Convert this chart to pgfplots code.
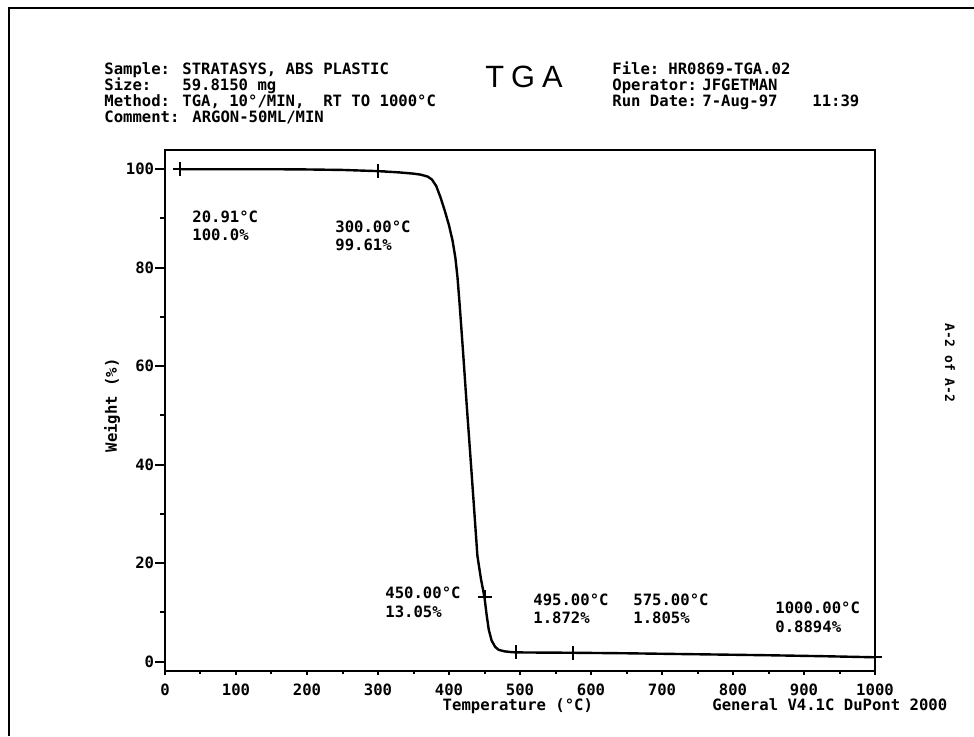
\documentclass[border=0pt]{standalone}
\usepackage{pgfplots}
\pgfplotsset{compat=1.18}
\usepackage{fontspec}
\setmainfont{DejaVu Sans Mono}
\newfontfamily\tgafont{Liberation Sans}
\newcommand\plt{\fontsize{7.8}{9}\selectfont\bfseries}

\begin{document}
\begin{tikzpicture}
% page laid out in reference pixels (1px = 0.5pt), origin moved to the axis corner
\begin{scope}[shift={(-82.5pt,335.5pt)},x=0.5pt,y=-0.5pt]
\useasboundingbox (0,0) rectangle (974,736);
\draw[line width=1pt] (9,736) -- (9,8) -- (974,8);
\begin{scope}[every node/.style={font=\plt, inner sep=0pt, anchor=base west}]
% header
\node at (104,74) {Sample:};
\node at (182,74) {STRATASYS, ABS PLASTIC};
\node at (104,90) {Size:};
\node at (182,90) {59.8150 mg};
\node at (104,106) {Method:};
\node at (182,106) {TGA,~10°/MIN,~~RT TO 1000°C};
\node at (104,122) {Comment:};
\node at (192,122) {ARGON-50ML/MIN};
\node[font=\tgafont\fontsize{15.4}{16}\selectfont] at (485,87) {T\hspace{3.5pt}G\hspace{3.5pt}A};
\node at (612,74) {File:};
\node at (668,74) {HR0869-TGA.02};
\node at (612,90) {Operator:};
\node at (702,90) {JFGETMAN};
\node at (612,106) {Run Date:};
\node at (702,106) {7-Aug-97};
\node at (812,106) {11:39};
% point labels
\node at (192,222) {20.91°C};
\node at (192,240) {100.0\%};
\node at (335,232) {300.00°C};
\node at (335,250) {99.61\%};
\node at (385,598) {450.00°C};
\node at (385,617) {13.05\%};
\node at (533,605) {495.00°C};
\node at (533,623) {1.872\%};
\node at (633,605) {575.00°C};
\node at (633,623) {1.805\%};
\node at (775,613) {1000.00°C};
\node at (775,632) {0.8894\%};
% footer
\node at (712,710) {General V4.1C DuPont 2000};
\node[anchor=center, rotate=-90, font=\fontsize{6.5}{8}\selectfont\bfseries] at (950,363) {A-2 of A-2};
\end{scope}
\end{scope}

\begin{axis}[
    scale only axis,
    width=355pt, height=260.5pt,
    at={(0,0)}, anchor=south west,
    xmin=0, xmax=1000, ymin=-1.9, ymax=103.9,
    xtick={0,100,...,1000}, ytick={0,20,...,100},
    minor x tick num=1, minor y tick num=1,
    tick pos=left,
    tick align=outside,
    axis line style={line width=1pt},
    every tick/.style={black, line width=1pt},
    xtick style={/pgfplots/major tick length=2pt, /pgfplots/minor tick length=1.5pt},
    ytick style={/pgfplots/major tick length=5pt, /pgfplots/minor tick length=2.5pt},
    /pgf/number format/assume math mode=true,
    /pgf/number format/1000 sep={},
    ticklabel style={font=\plt, inner sep=0pt},
    xticklabel style={anchor=base, yshift=-8pt},
    yticklabel style={anchor=east, xshift=-1pt},
    xlabel={Temperature (°C)},
    ylabel={Weight (\%)},
    xlabel style={font=\plt, inner sep=0pt, at={(axis description cs:0.497,-0.0749)}, anchor=base},
    ylabel style={font=\plt, inner sep=0pt, at={(axis description cs:-0.0746,0.51)}, anchor=center},
]
\addplot[black, line width=1.2pt] coordinates {
    (20.91,100.0) (60,100.0) (100,100.0) (150,100.0) (200,99.95) (250,99.85)
    (300,99.61) (330,99.35) (350,99.1) (360,98.9) (370,98.5) (376,97.9)
    (382,96.6) (388,94.3) (394,91.6) (400,88.6) (405,85.5) (409,82.0)
    (412,78.0) (415,72.5) (420,62.5) (425,52.0) (430,42.0) (435,31.8)
    (440,21.5) (445,16.8) (450,13.05) (453,9.5) (456,6.5) (460,4.3)
    (465,3.0) (470,2.4) (478,2.1) (487,1.95) (495,1.872) (575,1.805)
    (650,1.70) (750,1.50) (850,1.30) (930,1.10) (1000,0.8894)
};
\addplot[only marks, mark=+, mark size=3.5pt, black, line width=1pt] coordinates {
    (20.91,100.0) (300,99.61) (450,13.05) (495,1.872) (575,1.805) (1000,0.8894)
};
\end{axis}
\end{tikzpicture}
\end{document}
